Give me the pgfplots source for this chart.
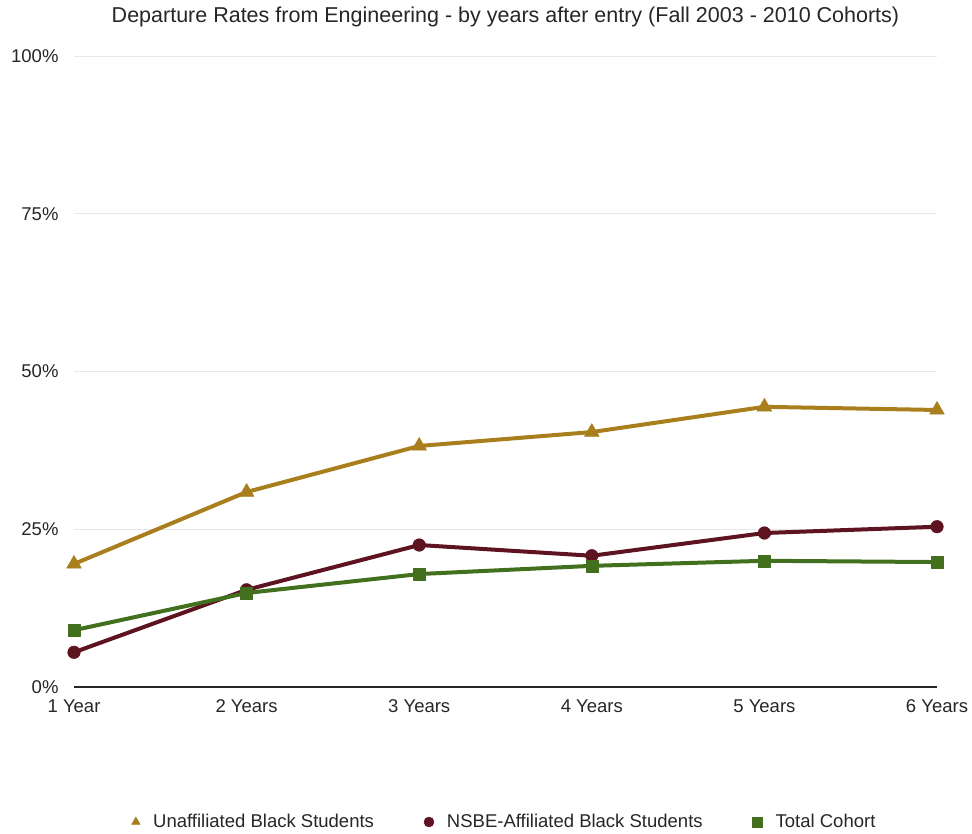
\documentclass[border=0pt]{standalone}
\usepackage{pgfplots}
\pgfplotsset{compat=1.18}
\usepackage{fontspec}
\setmainfont{Liberation Sans}

\definecolor{unaff}{HTML}{A97F1E}
\definecolor{nsbe}{HTML}{5E1420}
\definecolor{total}{HTML}{43701F}
\definecolor{gridgray}{HTML}{E8E8E8}

\begin{document}
\begin{tikzpicture}[x=1pt,y=1pt]
\useasboundingbox (-74,-147) rectangle (898,687);
\begin{axis}[
  at={(0,0)}, anchor=south west,
  scale only axis,
  width=863pt, height=631pt,
  xmin=0, xmax=5,
  ymin=0, ymax=100,
  xtick={0,1,2,3,4,5},
  xticklabels={1 Year,2 Years,3 Years,4 Years,5 Years,6 Years},
  ytick={0,25,50,75,100},
  yticklabel={\pgfmathprintnumber{\tick}\%},
  /pgf/number format/assume math mode=true,
  tick style={draw=none},
  axis x line*=bottom,
  axis y line*=left,
  y axis line style={draw=none},
  x axis line style={draw=black!85, line width=1.2pt, -},
  ymajorgrids,
  grid style={gridgray, line width=0.8pt},
  ticklabel style={font=\fontsize{18.5}{22}\selectfont, text=black!85},
  xticklabel style={yshift=-9pt},
  yticklabel style={xshift=-12pt},
  clip=false,
  title={Departure Rates from Engineering - by years after entry (Fall 2003 - 2010 Cohorts)},
  title style={font=\fontsize{21.5}{25}\selectfont, text=black!85, at={(0.5,1)}, yshift=27pt, anchor=base},
  legend columns=3,
  legend style={
    at={(0.5,0)}, anchor=center, yshift=-135pt, xshift=-1pt,
    draw=none, fill=none,
    font=\fontsize{18.5}{22}\selectfont, text=black!85,
    /tikz/every odd column/.style={column sep=11pt},
    /tikz/every even column/.style={column sep=48pt},
  },
  legend cell align=left,
  legend image code/.code={\draw[mark repeat=2,mark phase=2,#1,only marks,mark size=5pt] plot coordinates {(0cm,0cm) (0.2cm,0cm) (0.4cm,0cm)};},
]
\addplot[color=unaff, line width=4pt, line join=round, mark=triangle*, mark size=8.5pt, mark options={line width=0.5pt}]
  coordinates {(0,19.5) (1,30.9) (2,38.2) (3,40.4) (4,44.4) (5,43.9)};
\addlegendentry{Unaffiliated Black Students}
\addplot[color=nsbe, line width=4pt, line join=round, mark=*, mark size=6.3pt, mark options={line width=0.5pt}]
  coordinates {(0,5.5) (1,15.4) (2,22.5) (3,20.8) (4,24.4) (5,25.4)};
\addlegendentry{NSBE-Affiliated Black Students}
\addplot[color=total, line width=4pt, line join=round, mark=square*, mark size=6pt, mark options={line width=0.5pt}]
  coordinates {(0,9.0) (1,14.9) (2,17.9) (3,19.2) (4,20.0) (5,19.8)};
\addlegendentry{Total Cohort}
\end{axis}
\end{tikzpicture}
\end{document}
